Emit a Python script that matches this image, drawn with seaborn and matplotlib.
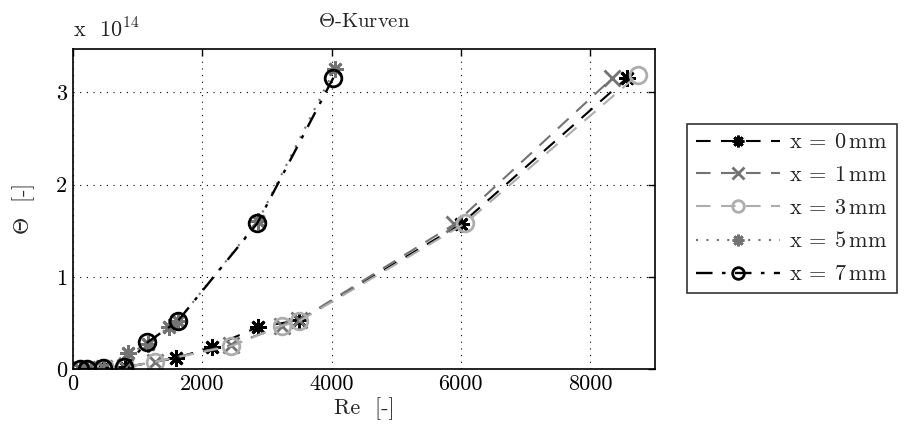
import numpy as np
import pandas as pd
import matplotlib
matplotlib.use("Agg")
import matplotlib.pyplot as plt
import seaborn as sns

# Re [-] and Theta [1e14] per measuring position
re_x0 = [110, 200, 470, 800, 1600, 2150, 2860, 3500, 6000, 8580]
theta_x0 = [0.0, 0.0, 0.01, 0.02, 0.12, 0.24, 0.455, 0.53, 1.57, 3.16]

re_x1 = [100, 210, 480, 800, 1270, 2450, 3230, 3500, 5900, 8340]
theta_x1 = [0.0, 0.0, 0.01, 0.02, 0.08, 0.26, 0.47, 0.53, 1.57, 3.15]

re_x3 = [120, 220, 490, 810, 1270, 2450, 3230, 3500, 6070, 8740]
theta_x3 = [0.0, 0.0, 0.01, 0.02, 0.08, 0.25, 0.47, 0.52, 1.58, 3.19]

re_x5 = [110, 210, 480, 850, 1160, 1480, 1620, 2860, 4050]
theta_x5 = [0.0, 0.0, 0.01, 0.17, 0.27, 0.46, 0.52, 1.60, 3.25]

re_x7 = [100, 220, 460, 790, 1150, 1620, 2850, 4030]
theta_x7 = [0.0, 0.0, 0.01, 0.02, 0.29, 0.52, 1.58, 3.16]

labels = ["0", "1", "3", "5", "7"]

sns.set_style("white")
plt.rcParams["font.family"] = ["cmr10", "DejaVu Serif"]
plt.rcParams["mathtext.fontset"] = "cm"
plt.rcParams["axes.formatter.use_mathtext"] = True

fig = plt.figure(figsize=(9.13, 4.41), dpi=100)
ax = fig.add_axes([0.080, 0.163, 0.637, 0.726])

series = [
    (re_x0, theta_x0, "black", (0, (7, 5)), (8, 2, 0), 1.5),
    (re_x1, theta_x1, "0.45", (0, (7, 5)), "x", 1.5),
    (re_x3, theta_x3, "0.68", (0, (7, 5)), "o", 1.5),
    (re_x5, theta_x5, "0.45", (0, (1, 4)), (8, 2, 0), 1.5),
    (re_x7, theta_x7, "black", (0, (7, 4, 1.5, 4)), "o", 1.7),
]

for (re, th, col, ls, mk, lw), lab in zip(series, labels):
    df = pd.DataFrame({"Re": re, "Theta": th})
    sns.lineplot(data=df, x="Re", y="Theta", ax=ax, sort=False, estimator=None,
                 color=col, linestyle=ls, linewidth=lw, marker=mk,
                 markersize=12, markerfacecolor="none", markeredgecolor=col,
                 markeredgewidth=2.0,
                 label=r"$\mathrm{x}\:=\:" + lab + r"\,\mathrm{mm}$")

ax.set_xlim(0, 9000)
ax.set_ylim(0, 3.47)
ax.set_xticks([0, 2000, 4000, 6000, 8000])
ax.set_yticks([0, 1, 2, 3])
ax.set_xticklabels(["0", "2000", "4000", "6000", "8000"])
ax.set_yticklabels(["0", "1", "2", "3"])
ax.tick_params(direction="in", length=5, width=1, labelsize=16,
               top=True, right=True, color="black", labelcolor="black", pad=4)
ax.grid(True, color="black", linestyle=(0, (1, 5)), linewidth=0.8)
for sp in ax.spines.values():
    sp.set_visible(True)
    sp.set_color("black")
    sp.set_linewidth(1.2)

ax.set_xlabel(r"Re  [-]", fontsize=16, labelpad=2)
ax.set_ylabel(r"$\Theta$  [-]", fontsize=16, labelpad=14)
ax.set_title(r"$\Theta$-Kurven", fontsize=15, pad=16)
fig.text(0.080, 0.905, r"x  10$^{14}$", fontsize=16, ha="left", va="bottom")

leg = ax.legend(loc="upper left", bbox_to_anchor=(0.7525, 0.719),
                bbox_transform=fig.transFigure, fontsize=16, frameon=True,
                fancybox=False, edgecolor="black", handlelength=3.8,
                handletextpad=0.4, labelspacing=0.6, borderpad=0.4,
                borderaxespad=0, markerscale=0.7)
leg.get_frame().set_linewidth(1.2)

fig.savefig("out.png", dpi=100, facecolor="white")
